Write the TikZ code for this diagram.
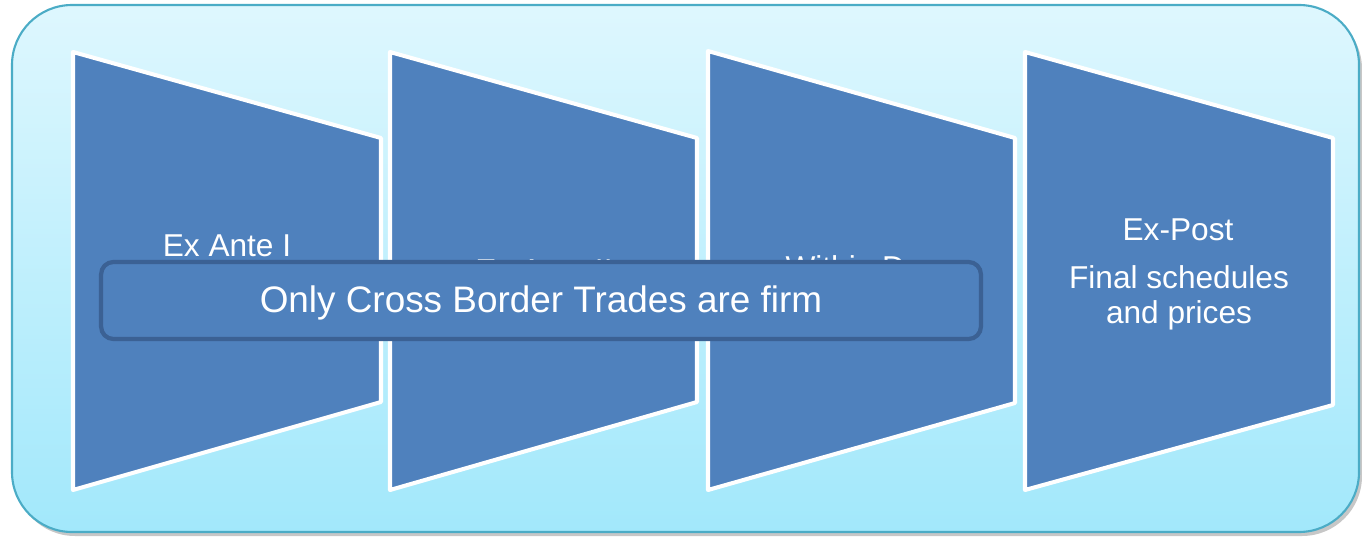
\documentclass[tikz,border=0pt]{standalone}
\usepackage{fontspec}
\setmainfont{Liberation Sans}
\usetikzlibrary{calc}
\definecolor{panelblue}{HTML}{4F81BD}
\definecolor{paneledge}{HTML}{3B6194}
\definecolor{sky}{HTML}{DEF7FE}
\definecolor{skydeep}{HTML}{A2E8FB}
\definecolor{frame}{HTML}{4BACC6}
\tikzset{
  stage/.style={fill=panelblue, draw=white, line width=2.3pt, line join=round},
  lab/.style={text=white, font=\fontsize{18}{20}\selectfont, align=center},
  banner/.style={fill=panelblue, draw=paneledge, line width=2.4pt, rounded corners=7pt,
    minimum width=17.6cm, minimum height=1.54cm, inner sep=0pt},
  bannerlab/.style={text=white, font=\fontsize{21}{25}\selectfont},
}
\begin{document}
\begin{tikzpicture}[x=0.02cm, y=-0.02cm]
  \useasboundingbox (0,0) rectangle (1362,537);

  % backdrop
  \fill[black, opacity=0.22, rounded corners=1.2cm] (15,9) rectangle (1362,536);
  \draw[draw=frame, line width=1.2pt, top color=sky, bottom color=skydeep, rounded corners=1.2cm]
    (12,5) rectangle (1359,532);

  % stages
  \draw[stage] (73,52) -- (381,138) -- (381,402) -- (73,490) -- cycle;
  \draw[stage] (390,52) -- (697,138) -- (697,402) -- (390,490) -- cycle;
  \draw[stage] (708,51) -- (1015,138) -- (1015,403) -- (708,490) -- cycle;
  \draw[stage] (1025,52) -- (1333,138) -- (1333,405) -- (1025,490) -- cycle;

  \node[lab] (exanteone) at (227,246) {Ex Ante I};
  \node[lab] (exantetwo) at (544,270.5) {Ex Ante II};
  \node[lab] (withinday) at (862,270.5) {Within Day};
  \node[lab] (expost) at (1178,230) {Ex-Post};
  \node[lab] (finalsched) at (1179,298) {Final schedules\\and prices};

  % overlay
  \node[banner] (firm) at (541,300.5) {};
  \node[bannerlab] (firmlab) at (541,303) {Only Cross Border Trades are firm};
\end{tikzpicture}
\end{document}
